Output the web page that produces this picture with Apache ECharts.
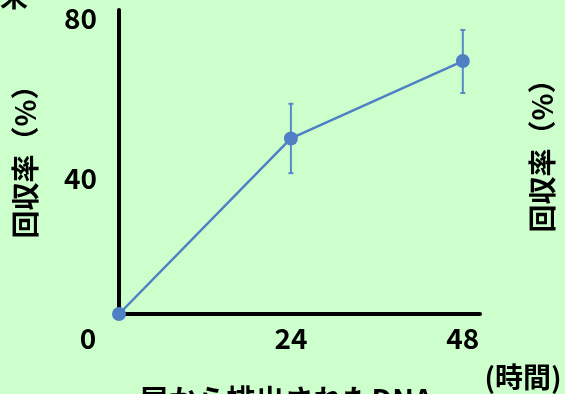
<!DOCTYPE html>
<html><head><meta charset="utf-8">
<script src="https://cdn.jsdelivr.net/npm/echarts@6/dist/echarts.min.js"></script>
<style>html,body{margin:0;padding:0;background:#CCFFCC}#c{width:565px;height:394px}</style>
</head><body><div id="c"></div>
<script>
const hours = [0, 24, 48];
const recovery = [6, 50, 69.4];
const errLow = [6, 41.3, 61.4];
const errHigh = [6, 58.7, 77.2];
const xTicks = [0, 24, 48];
const yTicks = [40, 80];
const yTitle = '回収率（%）';
const xUnit = '(時間)';
const bottomTitle = '尿から排出されたDNA';
const topLeftText = '来';

const FONT = '"Noto Sans CJK JP", "Noto Sans", sans-serif';
const BLUE = '#4f7fc4';
const chart = echarts.init(document.getElementById('c'), null, {renderer: 'canvas'});
chart.setOption({
  backgroundColor: '#CCFFCC',
  animation: false,
  grid: {left: 119, right: 85, top: 10, bottom: 80, containLabel: false},
  xAxis: {
    type: 'value', min: 0, max: 50.4,
    axisLine: {show: true, onZero: false, lineStyle: {color: '#000', width: 4}},
    axisTick: {show: false}, splitLine: {show: false},
    axisLabel: {
      customValues: xTicks, margin: 10,
      color: '#000', fontFamily: FONT, fontWeight: 'bold', fontSize: 28,
      formatter: v => v === 0 ? '{o|0}' : String(v),
      rich: {o: {color: '#000', fontFamily: FONT, fontWeight: 'bold', fontSize: 28, padding: [0, 62, 0, 0]}}
    }
  },
  yAxis: {
    type: 'value', min: 6, max: 82.2,
    axisLine: {show: true, lineStyle: {color: '#000', width: 4}},
    axisTick: {show: false}, splitLine: {show: false},
    axisLabel: {customValues: yTicks, margin: 22, color: '#000', fontFamily: FONT, fontWeight: 'bold', fontSize: 28}
  },
  series: [
    {
      type: 'custom',
      data: hours.map((h, i) => [h, errLow[i], errHigh[i]]),
      renderItem: (params, api) => {
        const lo = api.coord([api.value(0), api.value(1)]);
        const hi = api.coord([api.value(0), api.value(2)]);
        const st = {stroke: '#5b88c6', lineWidth: 2};
        return {type: 'group', children: [
          {type: 'line', shape: {x1: lo[0], y1: lo[1], x2: hi[0], y2: hi[1]}, style: st},
          {type: 'line', shape: {x1: lo[0]-2.5, y1: lo[1], x2: lo[0]+2.5, y2: lo[1]}, style: st},
          {type: 'line', shape: {x1: hi[0]-2.5, y1: hi[1], x2: hi[0]+2.5, y2: hi[1]}, style: st}
        ]};
      },
      z: 2
    },
    {
      type: 'line',
      data: hours.map((h, i) => [h, recovery[i]]),
      symbol: 'circle', symbolSize: 14,
      itemStyle: {color: BLUE},
      lineStyle: {color: BLUE, width: 2.5},
      z: 3
    }
  ],
  graphic: [
    {type: 'text', x: 25, y: 155, rotation: Math.PI / 2,
     style: {text: yTitle, fill: '#000', font: 'bold 28px ' + FONT, align: 'center', verticalAlign: 'middle'}},
    {type: 'text', x: 542, y: 149, rotation: Math.PI / 2,
     style: {text: yTitle, fill: '#000', font: 'bold 28px ' + FONT, align: 'center', verticalAlign: 'middle'}},
    {type: 'text', x: 523, y: 377,
     style: {text: xUnit, fill: '#000', font: 'bold 28px ' + FONT, align: 'center', verticalAlign: 'middle'}},
    {type: 'text', x: 286, y: 385,
     style: {text: bottomTitle, fill: '#000', font: 'bold 29px ' + FONT, align: 'center', verticalAlign: 'top'}},
    {type: 'text', x: 14, y: 10,
     style: {text: topLeftText, fill: '#000', font: 'bold 28px ' + FONT, align: 'center', verticalAlign: 'bottom'}}
  ]
});
</script></body></html>
